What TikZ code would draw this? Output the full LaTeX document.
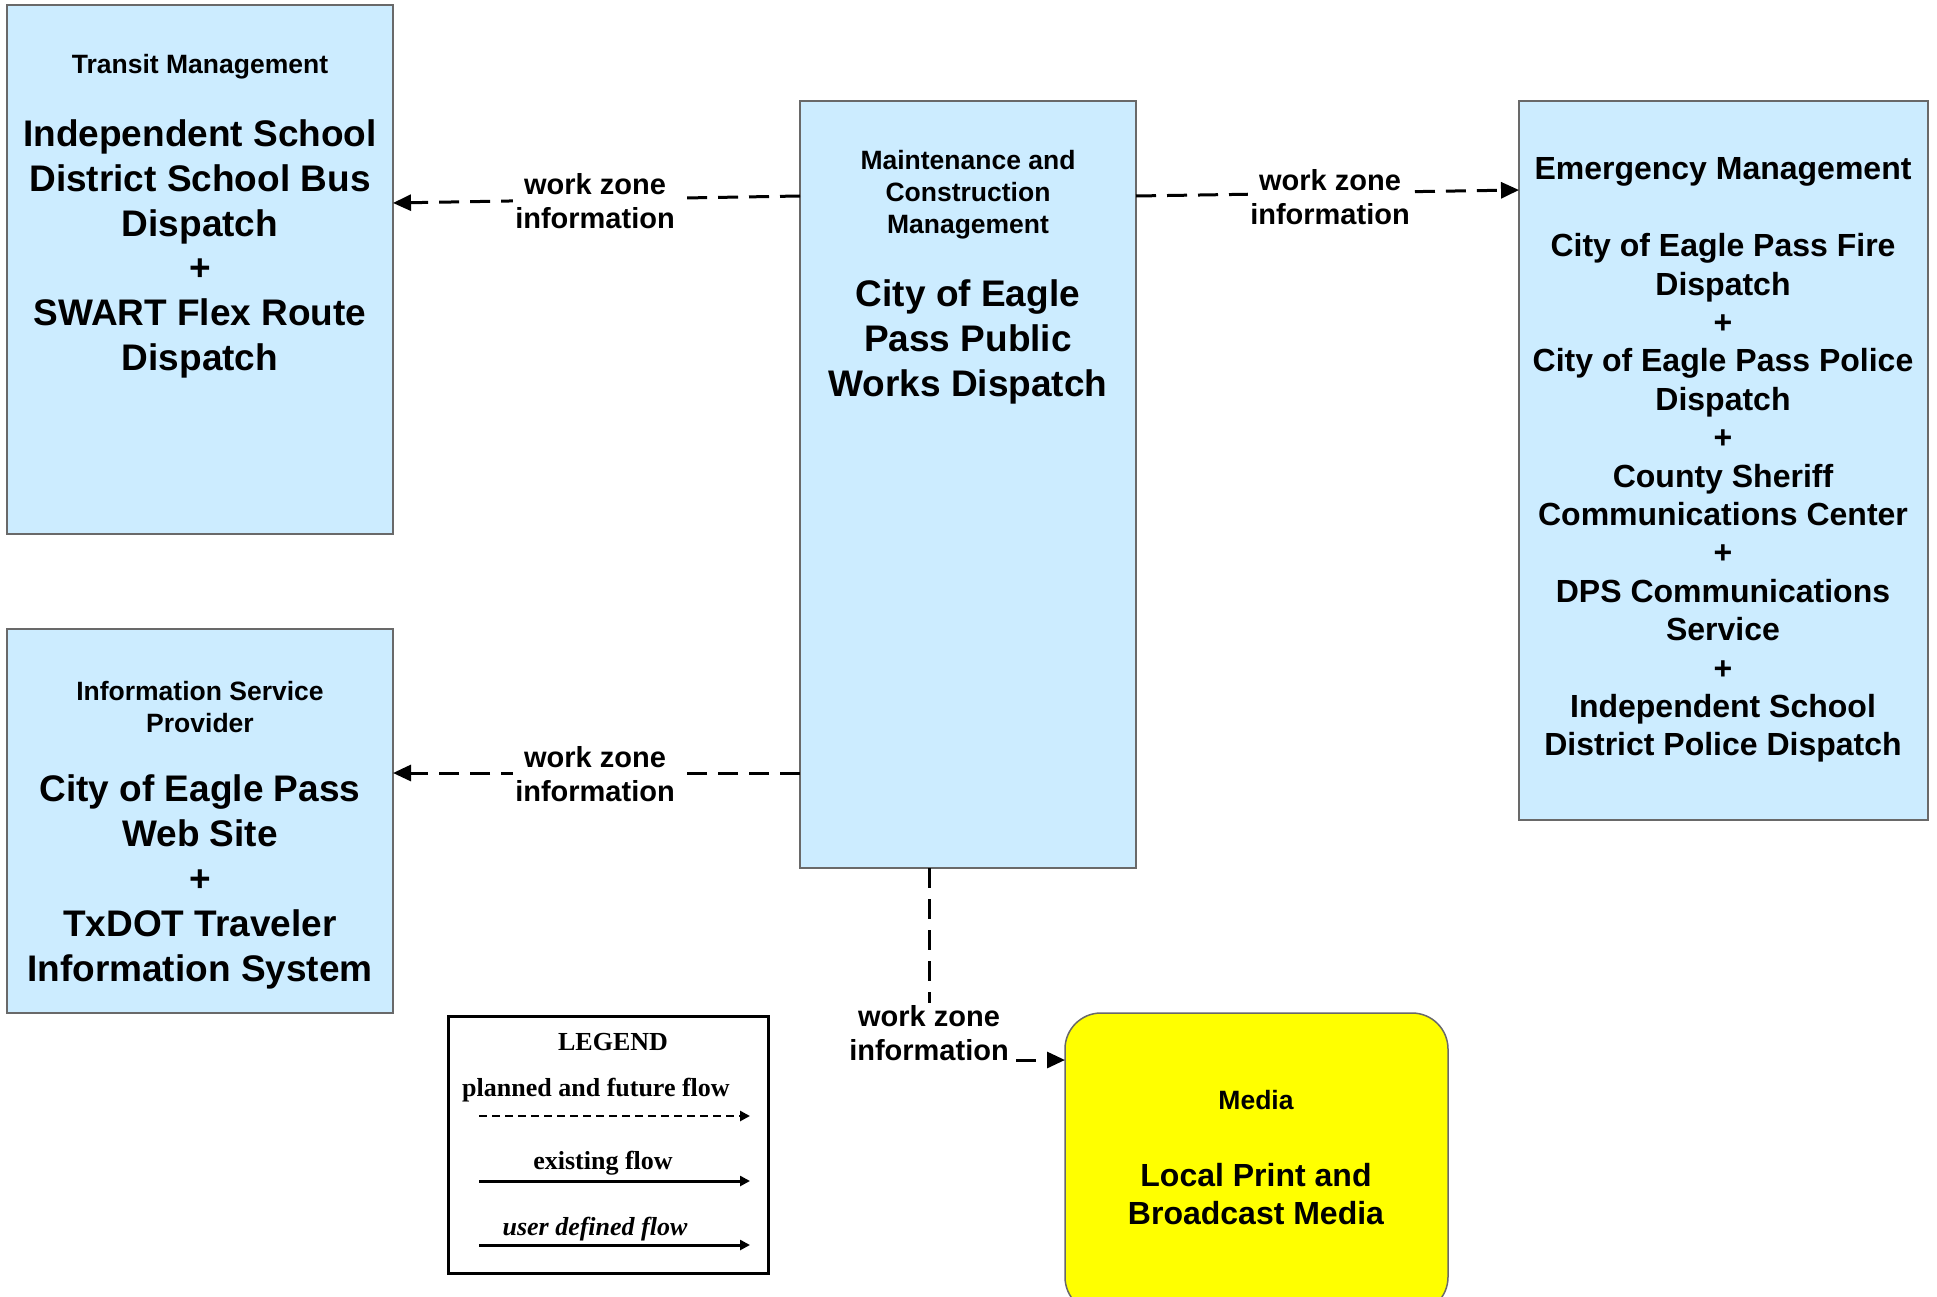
\documentclass[tikz,border=0pt]{standalone}
\usepackage{fontspec}
\setmainfont{Liberation Sans}
\newfontfamily\legendfont{Liberation Serif}
\usetikzlibrary{arrows.meta,calc}
\definecolor{boxblue}{RGB}{204,236,255}
\definecolor{boxgray}{RGB}{105,105,105}
\definecolor{mediayellow}{RGB}{255,255,0}
\tikzset{
  sys/.style={draw=boxgray, line width=1.5pt, fill=boxblue, inner sep=0pt, outer sep=0pt, anchor=north west},
  ttl/.style={font=\fontsize{26.5}{32}\selectfont\bfseries, align=center, inner sep=0pt},
  big/.style={font=\fontsize{37}{44.8}\selectfont\bfseries, align=center, inner sep=0pt},
  mid/.style={font=\fontsize{32}{38.4}\selectfont\bfseries, align=center, inner sep=0pt},
  lbl/.style={font=\fontsize{29}{34.6}\selectfont\bfseries, align=center, fill=white, inner sep=2pt},
  flow/.style={line width=3pt, dash pattern=on 20pt off 11pt, -{Triangle[length=18pt,width=16pt]}},
  leg/.style={font=\legendfont\fontsize{26}{30}\selectfont\bfseries, inner sep=0pt},
  legflow/.style={line width=3pt, -{Triangle[length=10pt,width=10pt]}},
}
\begin{document}
\begin{tikzpicture}[x=1pt,y=-1pt]
\useasboundingbox (0,0) rectangle (1937,1297);
\clip (0,0) rectangle (1937,1297);

% system boxes
\node[sys, minimum width=386pt, minimum height=529pt] (transit) at (7,5) {};
\node[sys, minimum width=386pt, minimum height=384pt] (info) at (7,629) {};
\node[sys, minimum width=336pt, minimum height=767pt] (maint) at (800,101) {};
\node[sys, minimum width=409pt, minimum height=719pt] (emerg) at (1519,101) {};
\node[sys, fill=mediayellow, rounded corners=36pt, minimum width=383pt, minimum height=300pt] (media) at (1065,1013) {};
\node[draw=black, line width=3pt, inner sep=0pt, anchor=north west, minimum width=320pt, minimum height=257pt] (legend) at (447,1015) {};

% texts in boxes
\node[ttl] (transitT) at (200,67) {Transit Management};
\node[big] (transitB) at (200,249) {Independent School\\District School Bus\\Dispatch\\+\\SWART Flex Route\\Dispatch};

\node[ttl] (infoT) at (200,707) {Information Service\\Provider};
\node[big] (infoB) at (200,882) {City of Eagle Pass\\Web Site\\+\\TxDOT Traveler\\Information System};

\node[ttl] (maintT) at (968,195) {Maintenance and\\Construction\\Management};
\node[big] (maintB) at (968,342) {City of Eagle\\Pass Public\\Works Dispatch};

\node[mid] (emergT) at (1723,172) {Emergency Management};
\node[mid] (emergB) at (1723,498) {City of Eagle Pass Fire\\Dispatch\\+\\City of Eagle Pass Police\\Dispatch\\+\\County Sheriff\\Communications Center\\+\\DPS Communications\\Service\\+\\Independent School\\District Police Dispatch};

\node[ttl] (mediaT) at (1256,1100) {Media};
\node[mid] (mediaB) at (1256,1194) {Local Print and\\Broadcast Media};

% connectors
\draw[flow] ($(maint.north west)+(0,95)$) -- ($(transit.north east)+(0,198)$);
\draw[flow] ($(maint.north east)+(0,95)$) -- ($(emerg.north west)+(0,89)$);
\draw[flow] ($(maint.north west)+(0,672)$) -- ($(info.north east)+(0,144)$);
\draw[flow] ($(maint.south west)+(129,0)$) |- ($(media.north west)+(0,47)$);

\node[lbl] (l1) at (595,201) {work zone\\information};
\node[lbl] (l2) at (1330,197) {work zone\\information};
\node[lbl] (l3) at (595,774) {work zone\\information};
\node[lbl] (l4) at (929,1033) {work zone\\information};

% legend
\node[leg] (legT) at (613,1042) {LEGEND};
\node[leg] (legP) at (596,1090) {planned and future flow};
\coordinate (p1) at (479,1116);
\coordinate (p2) at (750,1116);
\draw[legflow, line width=2.5pt, dash pattern=on 8pt off 5pt] (p1) -- (p2);
\node[leg] (legE) at (603,1163) {existing flow};
\coordinate (e1) at (479,1181);
\coordinate (e2) at (750,1181);
\draw[legflow] (e1) -- (e2);
\node[leg, font=\legendfont\fontsize{26}{30}\selectfont\bfseries\itshape] (legU) at (595,1229) {user defined flow};
\coordinate (u1) at (479,1245);
\coordinate (u2) at (750,1245);
\draw[legflow] (u1) -- (u2);
\end{tikzpicture}
\end{document}
